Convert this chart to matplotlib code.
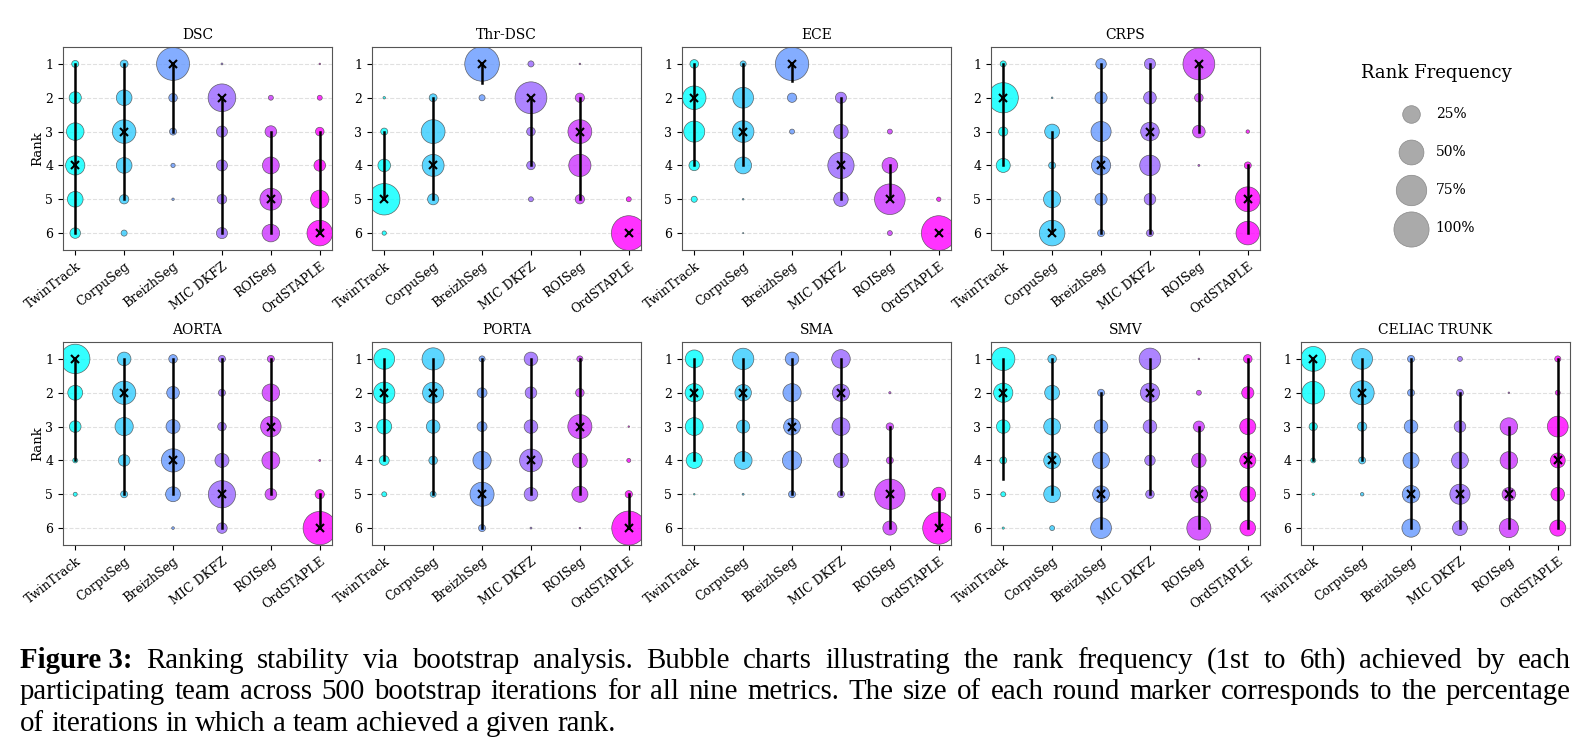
import matplotlib
matplotlib.use("Agg")
import matplotlib.pyplot as plt
import numpy as np

plt.rcParams['font.family'] = 'DejaVu Serif'

teams = ["TwinTrack", "CorpuSeg", "BreizhSeg", "MIC DKFZ", "ROISeg", "OrdSTAPLE"]
ranks = [1, 2, 3, 4, 5, 6]
metrics = ["DSC", "Thr-DSC", "ECE", "CRPS", "AORTA", "PORTA", "SMA", "SMV", "CELIAC TRUNK"]

# rank frequency (%) per team, columns = rank 1..6
freq_dsc = [[4, 12, 25, 30, 20, 9], [5, 20, 45, 20, 7, 3], [88, 6, 4, 1.5, 0.5, 0],
            [0.3, 62, 10, 10, 7.5, 10], [0, 2, 11, 23, 39, 25], [0.2, 2, 6, 11, 27, 53]]
freq_thr = [[0, 0.5, 4, 13, 80, 1.5], [0, 5, 46, 39, 10, 0], [97, 3, 0, 0, 0, 0],
            [3, 82, 6, 6, 2, 0], [0.2, 7, 46, 40, 7, 0], [0, 0, 0, 0, 2, 98]]
freq_ece = [[6, 45, 36, 9, 3, 0], [3, 35, 38, 23, 0.2, 0.1], [90, 7, 2, 0, 0, 0],
            [0, 10, 17, 56, 17, 0], [0, 0, 2, 20, 76, 2], [0, 0, 0, 0, 1.5, 98]]
freq_crps = [[3, 74, 7, 16, 0, 0], [0, 0.2, 18, 4, 24, 53], [9, 12, 33, 30, 12, 4],
             [10, 13, 28, 34, 11, 4], [82, 6, 13, 0.3, 0, 0], [0, 0, 1, 4, 50, 45]]
freq_aorta = [[70, 18, 11, 2, 1.3, 0], [15, 44, 27, 11, 4, 0], [6, 13, 16, 44, 18, 0.6],
              [4, 4, 6, 16, 60, 9], [4, 25, 34, 26, 11, 0], [0, 0, 0, 0.3, 7, 90]]
freq_porta = [[35, 37, 18, 8, 2, 0], [40, 36, 15, 6, 3, 0], [3, 8, 8, 27, 47, 4],
              [15, 11, 15, 42, 15, 0.3], [3, 6, 47, 18, 21, 0.2], [0, 0, 0.2, 1.3, 4.4, 94]]
freq_sma = [[26, 27, 26, 21, 0.2, 0], [37, 22, 14, 26, 0.3, 0], [15, 27, 23, 30, 4, 0],
            [28, 24, 26, 18, 4, 0], [0, 0.4, 4.5, 4, 75, 16], [0, 0, 0, 0, 16, 84]]
freq_smv = [[44, 30, 15, 4, 2, 0.4], [6, 18, 23, 23, 23, 2], [0, 4, 15, 23, 23, 35],
            [38, 30, 15, 9, 6, 0], [0.2, 2, 10, 17, 24, 47], [6, 12, 21, 21, 20, 20]]
freq_celiac = [[50, 42, 5.5, 2, 0.5, 0], [35, 47, 7, 4, 1, 0], [4, 4, 15, 21, 25, 27],
               [2, 4, 11, 23, 33, 18], [0, 0.2, 25, 25, 15, 30], [3, 2, 35, 18, 15, 21]]

# median rank (x marker) and whisker range per team
med_dsc, lo_dsc, hi_dsc = [4, 3, 1, 2, 5, 6], [1, 1, 1, 2, 3, 3], [6, 5, 3, 6, 6, 6]
med_thr, lo_thr, hi_thr = [5, 4, 1, 2, 3, 6], [3, 2, 1, 2, 2, 6], [5, 5, 1.55, 4, 5, 6]
med_ece, lo_ece, hi_ece = [2, 3, 1, 4, 5, 6], [1, 1, 1, 2, 4, 6], [4, 4, 1.5, 5, 5, 6]
med_crps, lo_crps, hi_crps = [2, 6, 4, 3, 1, 5], [1, 3, 1, 1, 1, 4], [4, 6, 6, 6, 3, 6]
med_aorta, lo_aorta, hi_aorta = [1, 2, 4, 5, 3, 6], [1, 1, 1, 1, 1, 5], [4, 5, 5, 6, 5, 6]
med_porta, lo_porta, hi_porta = [2, 2, 5, 4, 3, 6], [1, 1, 1, 1, 1, 5], [4, 5, 6, 5, 5, 6]
med_sma, lo_sma, hi_sma = [2, 2, 3, 2, 5, 6], [1, 1, 1, 1, 3, 5], [4, 4, 5, 5, 6, 6]
med_smv, lo_smv, hi_smv = [2, 4, 5, 2, 5, 4], [1, 1, 2, 1, 3, 1], [4.55, 5, 6, 5, 6, 6]
med_celiac, lo_celiac, hi_celiac = [1, 2, 5, 5, 5, 4], [1, 1, 1, 2, 3, 1], [4, 4, 6, 6, 6, 6]

all_freq = [freq_dsc, freq_thr, freq_ece, freq_crps, freq_aorta, freq_porta, freq_sma, freq_smv, freq_celiac]
all_med = [med_dsc, med_thr, med_ece, med_crps, med_aorta, med_porta, med_sma, med_smv, med_celiac]
all_lo = [lo_dsc, lo_thr, lo_ece, lo_crps, lo_aorta, lo_porta, lo_sma, lo_smv, lo_celiac]
all_hi = [hi_dsc, hi_thr, hi_ece, hi_crps, hi_aorta, hi_porta, hi_sma, hi_smv, hi_celiac]

legend_pcts = [25, 50, 75, 100]

W, H = 1591, 754
fig = plt.figure(figsize=(W / 100, H / 100), dpi=100)

SIZE = 640  # marker area (pt^2) at 100 %
colors = [plt.cm.cool(i / 5) for i in range(6)]

lefts = [63, 372, 682, 991, 1301]
ax_w, ax_h = 269, 203
tops = [47, 342]
slots = [(0, 0), (0, 1), (0, 2), (0, 3), (1, 0), (1, 1), (1, 2), (1, 3), (1, 4)]

for k, name in enumerate(metrics):
    row, col = slots[k]
    ax = fig.add_axes([lefts[col] / W, 1 - (tops[row] + ax_h) / H, ax_w / W, ax_h / H])
    f = np.array(all_freq[k], dtype=float)
    for i in range(len(teams)):
        m = f[i] > 0
        ax.scatter(np.full(m.sum(), i), np.array(ranks)[m], s=f[i][m] / 100 * SIZE,
                   color=colors[i], alpha=0.8, edgecolors='#444444', linewidths=0.5, zorder=2)
        ax.plot([i, i], [all_lo[k][i], all_hi[k][i]], color='black', lw=1.8, zorder=3)
        ax.plot(i, all_med[k][i], marker='x', color='black', ms=6, mew=1.5, zorder=4)
    ax.set_xlim(-0.25, 5.25)
    ax.set_ylim(6.5, 0.5)
    ax.set_yticks(ranks)
    ax.set_xticks(range(6))
    ax.set_xticklabels(teams, rotation=38, ha='right', rotation_mode='anchor', fontsize=9)
    ax.tick_params(axis='y', labelsize=9)
    ax.grid(axis='y', linestyle='--', color='#cccccc', alpha=0.6, lw=0.8)
    ax.set_axisbelow(True)
    for sp in ax.spines.values():
        sp.set_color('#555555')
    ax.set_title(name, fontsize=10)
    if col == 0:
        ax.set_ylabel("Rank", fontsize=9.5, labelpad=1)

handles = [plt.scatter([], [], s=p / 100 * SIZE, color='#aaaaaa', edgecolors='#888888', linewidths=0.5)
           for p in legend_pcts]
leg = fig.legend(handles, [f"{p}%" for p in legend_pcts], title="Rank Frequency", frameon=False,
                 loc='upper center', bbox_to_anchor=(1436 / W, 1 - 51 / H), labelspacing=1.75,
                 handletextpad=0.8, fontsize=10, title_fontsize=13)
leg._legend_box.sep = 18

# caption, justified by hand
cap_lines = [
    [("Figure 3:", 'bold')] + [(w, 'normal') for w in
     "Ranking stability via bootstrap analysis.  Bubble charts illustrating the rank frequency (1st to 6th) achieved by each".split(" ")],
    [(w, 'normal') for w in
     "participating team across 500 bootstrap iterations for all nine metrics. The size of each round marker corresponds to the percentage".split(" ")],
    [(w, 'normal') for w in "of iterations in which a team achieved a given rank.".split(" ")],
]
baselines = [668, 699, 731]
x0, x1 = 20, 1571
fig.canvas.draw()
renderer = fig.canvas.get_renderer()
cap_kw = dict(family='Liberation Serif', fontsize=20.8)
sp = fig.text(0, 0, "a a", **cap_kw)
sp2 = fig.text(0, 0, "aa", **cap_kw)
space = sp.get_window_extent(renderer).width - sp2.get_window_extent(renderer).width
sp.remove()
sp2.remove()
for li, words in enumerate(cap_lines):
    words = [w for w in words if w[0] != ""]
    texts = [fig.text(0, 1 - baselines[li] / H, w, fontweight=wt, va='baseline', **cap_kw) for w, wt in words]
    widths = [t.get_window_extent(renderer).width for t in texts]
    gap = (x1 - x0 - sum(widths)) / (len(words) - 1) if li < 2 else space
    x = x0
    for t, w in zip(texts, widths):
        t.set_x(x / W)
        x += w + gap

fig.savefig("out.png", dpi=100)
